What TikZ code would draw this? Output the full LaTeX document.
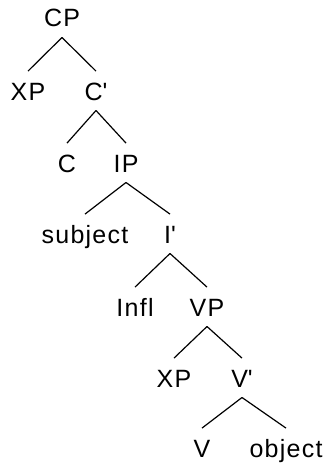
\documentclass[tikz,border=0pt]{standalone}
\usepackage{fontspec}
\setmainfont{Liberation Sans}[LetterSpace=5]
\begin{document}
\begin{tikzpicture}[x=1pt,y=-1pt,
  lbl/.style={anchor=base,inner sep=0pt,text height=17pt,text depth=5pt,
    font=\fontsize{25}{29}\selectfont},
  branch/.style={line width=1.2pt,black}]
\useasboundingbox (0,0) rectangle (326,463);
% labels, placed on their baselines
\node[lbl] (cp)   at (62,27)  {CP};
\node[lbl] (xp1)  at (28,100) {XP};
\node[lbl] (cbar) at (96,100) {C\textquotesingle};
\node[lbl] (c)    at (67,172) {C};
\node[lbl] (ip)   at (126,172) {IP};
\node[lbl] (subj) at (85,243) {subject};
\node[lbl] (ibar) at (170,243) {I\textquotesingle};
\node[lbl] (infl) at (135,316) {Infl};
\node[lbl] (vp)   at (207,316) {VP};
\node[lbl] (xp2)  at (174,387) {XP};
\node[lbl] (vbar) at (242,387) {V\textquotesingle};
\node[lbl] (v)    at (202,457) {V};
\node[lbl] (obj)  at (286,457) {object};
% branches
\foreach \p/\q in {cp/xp1,cp/cbar,cbar/c,cbar/ip,ip/subj,ip/ibar,
                   ibar/infl,ibar/vp,vp/xp2,vp/vbar,vbar/v,vbar/obj}
  \draw[branch] ([yshift=-5.3pt]\p.south) -- ([yshift=11.7pt]\q.north);
\end{tikzpicture}
\end{document}
